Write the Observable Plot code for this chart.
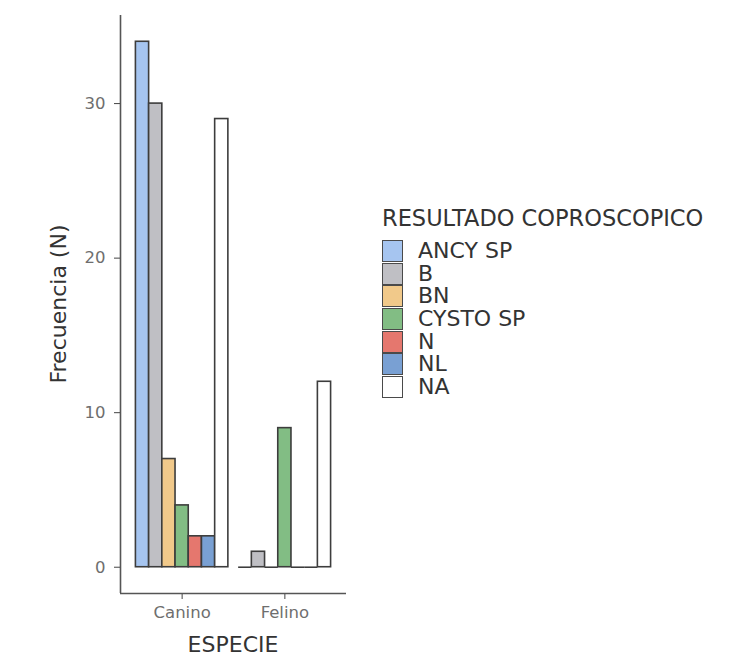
<!DOCTYPE html>
<html>
<head>
<meta charset="utf-8">
<script src="https://cdn.jsdelivr.net/npm/d3@7"></script>
<script src="https://cdn.jsdelivr.net/npm/@observablehq/plot@0.6"></script>
<style>
  html, body { margin: 0; padding: 0; background: #fff; }
  #wrap { position: relative; width: 735px; height: 671px; font-family: "DejaVu Sans", sans-serif; }
  #chart svg text { fill: #6e6e6e; }
  .title { position: absolute; font-size: 22px; line-height: 22px; color: #333; white-space: nowrap; }
  #ytitle { left: -91px; top: 293px; width: 300px; text-align: center; transform: rotate(-90deg); transform-origin: 150px 11px; }
  #xtitle { left: 83px; top: 634px; width: 300px; text-align: center; }
  #legend { position: absolute; left: 382px; top: 207px; color: #333; }
  #legend .lt { font-size: 22.5px; line-height: 22px; margin-bottom: 11px; white-space: nowrap; }
  #legend .row { display: flex; align-items: center; height: 22.6px; }
  #legend .sw { width: 19px; height: 20px; border: 1px solid #4a4a4a; margin-right: 15px; }
  #legend .lb { font-size: 22px; line-height: 22px; white-space: nowrap; }
</style>
</head>
<body>
<div id="wrap">
  <div id="chart"></div>
  <div id="ytitle" class="title">Frecuencia (N)</div>
  <div id="xtitle" class="title">ESPECIE</div>
  <div id="legend"></div>
</div>
<script>
const especies = ["Canino", "Felino"];
const resultados = ["ANCY SP", "B", "BN", "CYSTO SP", "N", "NL", "NA"];
const canino = [34, 30, 7, 4, 2, 2, 29];
const felino = [0, 1, 0, 9, 0, 0, 12];
const colores = ["#a6c5f0", "#bfbfc4", "#f1c98a", "#82bd84", "#e5776e", "#79a0d3", "#ffffff"];
const yTicks = [0, 10, 20, 30];
const legendTitle = "RESULTADO COPROSCOPICO";

const series = [canino, felino];
const dodge = 0.9;
const w = dodge / resultados.length;
const data = [];
especies.forEach((e, i) => {
  resultados.forEach((r, k) => {
    const x1 = (i + 1) - dodge / 2 + k * w;
    data.push({especie: e, resultado: r, n: series[i][k], x1, x2: x1 + w});
  });
});

const maxN = d3.max(data, d => d.n);
const yLo = -0.05 * maxN, yHi = maxN * 1.05;

const chart = Plot.plot({
  width: 735,
  height: 671,
  marginTop: 15,
  marginBottom: 78,
  marginLeft: 120,
  marginRight: 389,
  style: {fontFamily: "DejaVu Sans, sans-serif", fontSize: "16.5px", color: "#444", background: "#fff"},
  x: {type: "linear", domain: [0.4, 2.6], ticks: [1, 2], tickFormat: d => especies[d - 1], tickSize: 6, tickPadding: 7, label: null},
  y: {domain: [yLo, yHi], ticks: yTicks, tickSize: 6, tickPadding: 9, label: null},
  color: {type: "ordinal", domain: resultados, range: colores},
  marks: [
    Plot.rectY(data.filter(d => d.n > 0), {x1: "x1", x2: "x2", y1: 0, y2: "n", fill: "resultado", stroke: "#3d3d3d", strokeWidth: 1.6}),
    Plot.ruleY(data.filter(d => d.n === 0), {x1: "x1", x2: "x2", y: "n", stroke: "#3d3d3d", strokeWidth: 1.6}),
    Plot.ruleX([0.4], {stroke: "#555", strokeWidth: 1.6}),
    Plot.ruleY([yLo], {stroke: "#555", strokeWidth: 1.6})
  ]
});
document.getElementById("chart").appendChild(chart);

const leg = document.getElementById("legend");
const t = document.createElement("div");
t.className = "lt";
t.textContent = legendTitle;
leg.appendChild(t);
resultados.forEach((r, k) => {
  const row = document.createElement("div");
  row.className = "row";
  const sw = document.createElement("div");
  sw.className = "sw";
  sw.style.background = colores[k];
  const lb = document.createElement("div");
  lb.className = "lb";
  lb.textContent = r;
  row.appendChild(sw);
  row.appendChild(lb);
  leg.appendChild(row);
});
</script>
</body>
</html>
